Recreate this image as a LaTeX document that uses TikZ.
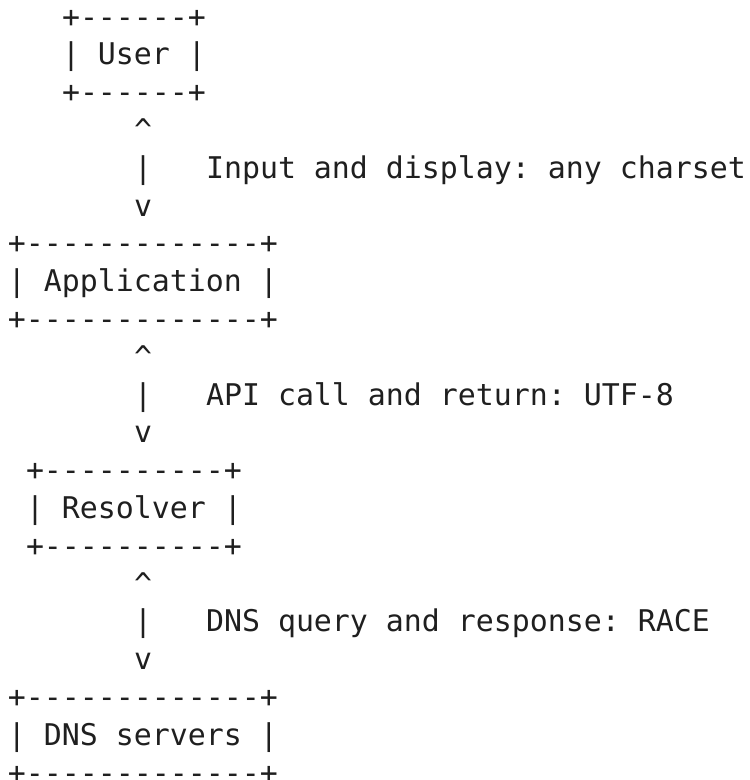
\documentclass[tikz,border=0pt]{standalone}
\usepackage{fontspec}
\setmonofont{DejaVu Sans Mono}
\begin{document}
\begin{tikzpicture}[x=1pt,y=-1pt,
  ascii/.style={anchor=base west,inner sep=0pt,outer sep=0pt,
    font=\fontsize{29.9}{36}\selectfont\ttfamily,text=black!88}]
  \useasboundingbox (0,0) rectangle (750,780);
  % column pitch 18, row pitch 37.8, first baseline 27
  \def\cw{18}\def\rp{37.8}\def\bz{27}\def\lx{8}
  \newcommand\asciirow[4]{%
    \node[ascii] (#1) at ({\lx+#2*\cw},{\bz+#3*\rp}) {#4};}
  % user box
  \asciirow{userT}{3}{0}{+------+}
  \asciirow{userM}{3}{1}{| User |}
  \asciirow{userB}{3}{2}{+------+}
  % link user <-> application
  \asciirow{aUp}{7}{3}{\char`\^}
  \asciirow{aBar}{7}{4}{|}
  \asciirow{aLbl}{11}{4}{Input and display: any charset}
  \asciirow{aDn}{7}{5}{v}
  % application box
  \asciirow{appT}{0}{6}{+-------------+}
  \asciirow{appM}{0}{7}{| Application |}
  \asciirow{appB}{0}{8}{+-------------+}
  % link application <-> resolver
  \asciirow{bUp}{7}{9}{\char`\^}
  \asciirow{bBar}{7}{10}{|}
  \asciirow{bLbl}{11}{10}{API call and return: UTF-8}
  \asciirow{bDn}{7}{11}{v}
  % resolver box
  \asciirow{resT}{1}{12}{+----------+}
  \asciirow{resM}{1}{13}{| Resolver |}
  \asciirow{resB}{1}{14}{+----------+}
  % link resolver <-> dns servers
  \asciirow{cUp}{7}{15}{\char`\^}
  \asciirow{cBar}{7}{16}{|}
  \asciirow{cLbl}{11}{16}{DNS query and response: RACE}
  \asciirow{cDn}{7}{17}{v}
  % dns servers box
  \asciirow{dnsT}{0}{18}{+-------------+}
  \asciirow{dnsM}{0}{19}{| DNS servers |}
  \asciirow{dnsB}{0}{20}{+-------------+}
\end{tikzpicture}
\end{document}
